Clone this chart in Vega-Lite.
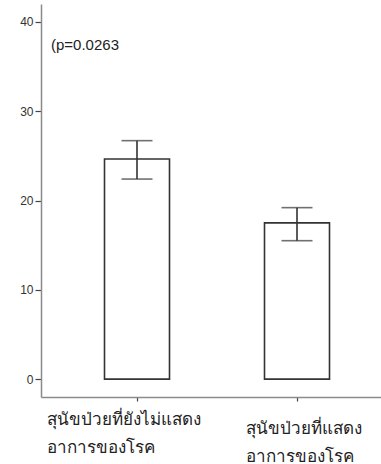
{
  "$schema": "https://vega.github.io/schema/vega-lite/v6.json",
  "width": 340,
  "height": 393,
  "autosize": {"type": "none"},
  "padding": {"left": 41, "top": 4, "right": 0, "bottom": 67},
  "background": "white",
  "config": {"view": {"stroke": null}},
  "data": {"values": [
    {"group": "สุนัขป่วยที่ยังไม่แสดง อาการของโรค", "mean": 24.65, "lo": 22.4, "hi": 26.7, "note": "(p=0.0263", "noteY": 37.4},
    {"group": "สุนัขป่วยที่แสดง อาการของโรค", "mean": 17.5, "lo": 15.5, "hi": 19.2}
  ]},
  "encoding": {
    "x": {
      "field": "group", "type": "nominal", "sort": null,
      "scale": {"paddingInner": 0, "paddingOuter": 0.0625, "align": 0.8},
      "axis": {
        "title": null, "labelAngle": 0, "domainColor": "#8a8a8a", "domainWidth": 1.5,
        "tickColor": "#444", "tickSize": 4, "tickWidth": 1.2,
        "labelExpr": "split(datum.value, ' ')",
        "labelFontSize": 17, "labelColor": "#222", "labelLineHeight": 28,
        "labelBaseline": "top", "labelAlign": "left",
        "labelFont": "Noto Sans",
        "labelOffset": {"condition": {"test": "indexof(datum.value, 'ยังไม่') >= 0", "value": -90}, "value": -51},
        "labelPadding": {"condition": {"test": "indexof(datum.value, 'ยังไม่') >= 0", "value": 10}, "value": 19}
      }
    }
  },
  "layer": [
    {
      "mark": {"type": "bar", "fill": "white", "stroke": "#333", "strokeWidth": 1.6, "width": 65},
      "encoding": {
        "y": {
          "field": "mean", "type": "quantitative",
          "scale": {"domain": [-2, 42], "nice": false, "zero": false},
          "axis": {
            "title": null, "values": [0, 10, 20, 30, 40], "grid": false,
            "domainColor": "#8a8a8a", "domainWidth": 1.5,
            "tickColor": "#444", "tickSize": 6, "tickWidth": 1.2,
            "labelFontSize": 12, "labelColor": "#333", "labelPadding": 2,
            "labelFont": "Liberation Sans"
          }
        }
      }
    },
    {
      "mark": {"type": "rule", "color": "#333", "strokeWidth": 1.6},
      "encoding": {"y": {"field": "lo", "type": "quantitative"}, "y2": {"field": "hi"}}
    },
    {
      "mark": {"type": "tick", "color": "#333", "thickness": 1.6, "size": 31},
      "encoding": {"y": {"field": "lo", "type": "quantitative"}}
    },
    {
      "mark": {"type": "tick", "color": "#333", "thickness": 1.6, "size": 31},
      "encoding": {"y": {"field": "hi", "type": "quantitative"}}
    },
    {
      "transform": [{"filter": "datum.note != null"}],
      "mark": {"type": "text", "align": "left", "baseline": "middle", "dx": -86, "fontSize": 15, "font": "Liberation Sans", "color": "#222"},
      "encoding": {"y": {"field": "noteY", "type": "quantitative"}, "text": {"field": "note"}}
    }
  ]
}
